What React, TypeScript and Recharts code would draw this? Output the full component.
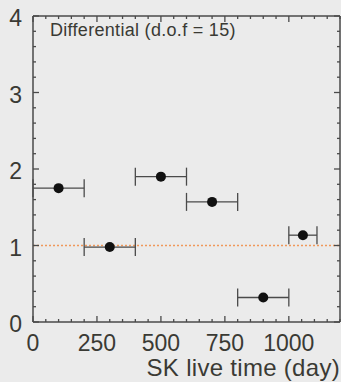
import { ScatterChart, Scatter, XAxis, YAxis, ErrorBar, ReferenceLine } from "recharts";

// bin centres (days) and flux ratio
const liveDays = [100, 300, 500, 700, 900, 1055];
const ratio = [1.75, 0.98, 1.9, 1.57, 0.32, 1.135];
const binLow = [0, 200, 400, 600, 800, 1000];
const binHigh = [200, 400, 600, 800, 1000, 1110];

const xTicks = Array.from({ length: 25 }, (_, i) => i * 50);
const yTicks = Array.from({ length: 21 }, (_, i) => Math.round(i * 2) / 10);

const points = liveDays.map((d, i) => ({
  x: d,
  y: ratio[i],
  xerr: [d - binLow[i], binHigh[i] - d],
}));

const AXIS = "#4a4a4a";
const INK = "#3a3a34";
const FONT = "'Liberation Sans', Arial, sans-serif";

const BottomTick = ({ x, y, payload }: any) => {
  const major = payload.value % 250 === 0;
  return (
    <g>
      <line x1={x} x2={x} y1={y} y2={y - (major ? 6 : 3)} stroke={AXIS} strokeWidth={1.3} />
      {major && payload.value <= 1000 && (
        <text x={x} y={y + 29} textAnchor="middle" fontSize={23} fontFamily={FONT} fill={INK}>
          {payload.value}
        </text>
      )}
    </g>
  );
};

const TopTick = ({ x, y, payload }: any) => {
  const major = payload.value % 250 === 0;
  return <line x1={x} x2={x} y1={y} y2={y + (major ? 6 : 3)} stroke={AXIS} strokeWidth={1.3} />;
};

const LeftTick = ({ x, y, payload }: any) => {
  const major = Number.isInteger(payload.value);
  return (
    <g>
      <line x1={x} x2={x + (major ? 6 : 3)} y1={y} y2={y} stroke={AXIS} strokeWidth={1.3} />
      {major && (
        <text x={x - 11} y={y + 10} textAnchor="end" fontSize={23} fontFamily={FONT} fill={INK}>
          {payload.value}
        </text>
      )}
    </g>
  );
};

const RightTick = ({ x, y, payload }: any) => {
  const major = Number.isInteger(payload.value);
  return <line x1={x} x2={x - (major ? 6 : 3)} y1={y} y2={y} stroke={AXIS} strokeWidth={1.3} />;
};

const Dot = ({ cx, cy }: any) => <circle cx={cx} cy={cy} r={5} fill="#111" />;
const NoDot = () => <g />;

const App = () => (
  <div style={{ position: "absolute", left: 0, top: 0, width: 341, height: 382, background: "#ebebeb", fontFamily: FONT }}>
    <ScatterChart width={341} height={382} margin={{ top: 15, right: 0, bottom: 0, left: 0 }}>
      <XAxis
        dataKey="x"
        type="number"
        domain={[0, 1200]}
        ticks={xTicks}
        interval={0}
        height={60}
        allowDataOverflow
        tickLine={false}
        tickSize={0}
        tickMargin={0}
        axisLine={{ stroke: AXIS, strokeWidth: 1.5 }}
        tick={<BottomTick />}
      />
      <XAxis
        xAxisId="top"
        dataKey="x"
        orientation="top"
        type="number"
        domain={[0, 1200]}
        ticks={xTicks}
        interval={0}
        height={1}
        allowDataOverflow
        tickLine={false}
        tickSize={0}
        tickMargin={0}
        axisLine={{ stroke: AXIS, strokeWidth: 1.5 }}
        tick={<TopTick />}
      />
      <YAxis
        dataKey="y"
        type="number"
        domain={[0, 4]}
        ticks={yTicks}
        interval={0}
        width={33}
        allowDataOverflow
        tickLine={false}
        tickSize={0}
        tickMargin={0}
        axisLine={{ stroke: AXIS, strokeWidth: 1.5 }}
        tick={<LeftTick />}
      />
      <YAxis
        yAxisId="right"
        dataKey="y"
        orientation="right"
        type="number"
        domain={[0, 4]}
        ticks={yTicks}
        interval={0}
        width={1}
        allowDataOverflow
        tickLine={false}
        tickSize={0}
        tickMargin={0}
        axisLine={{ stroke: AXIS, strokeWidth: 1.5 }}
        tick={<RightTick />}
      />
      <ReferenceLine y={1} stroke="#f0985a" strokeWidth={1.5} strokeDasharray="2 2" />
      {/* invisible series so the mirrored top/right axes get drawn */}
      <Scatter data={points} dataKey="y" xAxisId="top" yAxisId="right" shape={<NoDot />} isAnimationActive={false} />
      <Scatter data={points} dataKey="y" shape={<Dot />} isAnimationActive={false}>
        <ErrorBar dataKey="xerr" direction="x" width={9} stroke="#4a4a4a" strokeWidth={1.3} />
      </Scatter>
    </ScatterChart>
    <div style={{ position: "absolute", left: 50, top: 20, fontSize: 18, lineHeight: "20px", letterSpacing: 0.3, color: INK }}>
      Differential (d.o.f = 15)
    </div>
    <div style={{ position: "absolute", right: 1, top: 356, fontSize: 24, lineHeight: "24px", letterSpacing: 0.3, color: INK, whiteSpace: "nowrap" }}>
      SK live time (day)
    </div>
  </div>
);

export default App;
